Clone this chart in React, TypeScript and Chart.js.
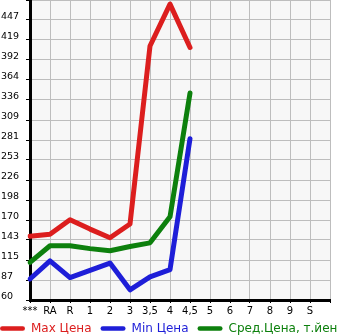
import React, { useEffect, useRef } from "react";
import { Chart, registerables } from "chart.js";

Chart.register(...registerables);

const categories = ["***", "RA", "R", "1", "2", "3", "3,5", "4", "4,5", "5", "6", "7", "8", "9", "S", ""];
const maxPrice = [148, 151, 171, 158, 146, 165, 411, 469, 409];
const minPrice = [89, 114, 91, 101, 111, 74, 92, 102, 283];
const avgPrice = [112, 135, 135, 131, 128, 134, 139, 175, 346];
const yTickLabels = ["60", "87", "115", "143", "170", "198", "226", "253", "281", "309", "336", "364", "392", "419", "447"];
const seriesNames = ["Max Цена", "Min Цена", "Сред.Цена, т.йен"];
const seriesColors = ["#dc1e1e", "#1e1ed8", "#0d800d"];

const Y_MIN = 60;
const Y_STEP = (447 - 60) / 14;
const Y_MAX = Y_MIN + Y_STEP * 15;
const FONT = "'DejaVu Sans', sans-serif";

const bgPlugin = {
  id: "plotBg",
  beforeDraw(chart: any) {
    const { ctx, chartArea } = chart;
    ctx.save();
    ctx.fillStyle = "#f7f7f7";
    ctx.fillRect(chartArea.left, chartArea.top, chartArea.right - chartArea.left, chartArea.bottom - chartArea.top);
    ctx.restore();
  },
};

const legendPlugin = {
  id: "lineLegend",
  afterDraw(chart: any) {
    const { ctx } = chart;
    ctx.save();
    ctx.font = `12px ${FONT}`;
    const boxW = 25;
    const lw = 4.5;
    const textGap = 6;
    const itemGap = 9;
    let x = 0;
    const y = 328.5;
    chart.data.datasets.forEach((d: any) => {
      const color = d.borderColor as string;
      const w = ctx.measureText(d.label).width;
      ctx.strokeStyle = color;
      ctx.lineWidth = lw;
      ctx.lineCap = "round";
      ctx.beginPath();
      ctx.moveTo(x + lw / 2, y);
      ctx.lineTo(x + boxW - lw / 2, y);
      ctx.stroke();
      ctx.fillStyle = color;
      ctx.textBaseline = "middle";
      ctx.textAlign = "left";
      ctx.fillText(d.label, x + boxW + textGap, y);
      x += boxW + textGap + w + itemGap;
    });
    ctx.restore();
  },
};

export default function App() {
  const ref = useRef<HTMLCanvasElement | null>(null);
  useEffect(() => {
    document.body.style.margin = "0";
    if (!ref.current) return;
    const mk = (i: number, data: number[]) => ({
      label: seriesNames[i],
      data,
      borderColor: seriesColors[i],
      backgroundColor: seriesColors[i],
      borderWidth: 5,
      pointRadius: 0,
      borderCapStyle: "round" as const,
      borderJoinStyle: "round" as const,
      tension: 0,
      fill: false,
    });
    const chart = new Chart(ref.current, {
      type: "line",
      data: {
        labels: categories,
        datasets: [mk(0, maxPrice), mk(1, minPrice), mk(2, avgPrice)],
      },
      options: {
        animation: false,
        responsive: false,
        devicePixelRatio: 1,
        layout: { padding: { left: 1, right: 15, top: 0, bottom: 15 } },
        plugins: { legend: { display: false }, tooltip: { enabled: false } },
        scales: {
          x: {
            type: "category",
            offset: false,
            afterFit: (s: any) => {
              s.height = 20;
              s.paddingLeft = 0;
              s.paddingRight = 0;
            },
            grid: { color: "#bdbdbd", lineWidth: 1, tickLength: 3, tickColor: "#000", drawTicks: true },
            border: { color: "#000", width: 3 },
            ticks: {
              autoSkip: false,
              maxRotation: 0,
              minRotation: 0,
              padding: 2,
              color: "#000",
              font: { family: FONT, size: 10 },
            },
          },
          y: {
            type: "linear",
            min: Y_MIN,
            max: Y_MAX,
            afterFit: (s: any) => {
              s.width = 29;
              s.paddingTop = 0;
              s.paddingBottom = 0;
            },
            grid: { color: "#bdbdbd", lineWidth: 1, tickLength: 4, tickColor: "#000", drawTicks: true },
            border: { color: "#000", width: 3 },
            ticks: {
              stepSize: Y_STEP,
              autoSkip: false,
              crossAlign: "far",
              color: "#000",
              font: { family: FONT, size: 9.5, lineHeight: "7px" },
              callback: (_v: any, i: number) => (yTickLabels[i] !== undefined ? [yTickLabels[i], ""] : ""),
            },
          },
        },
      },
      plugins: [bgPlugin, legendPlugin],
    } as any);
    return () => chart.destroy();
  }, []);
  return (
    <div style={{ width: 345, height: 335 }}>
      <canvas ref={ref} width={345} height={335} style={{ display: "block", width: 345, height: 335 }} />
    </div>
  );
}
